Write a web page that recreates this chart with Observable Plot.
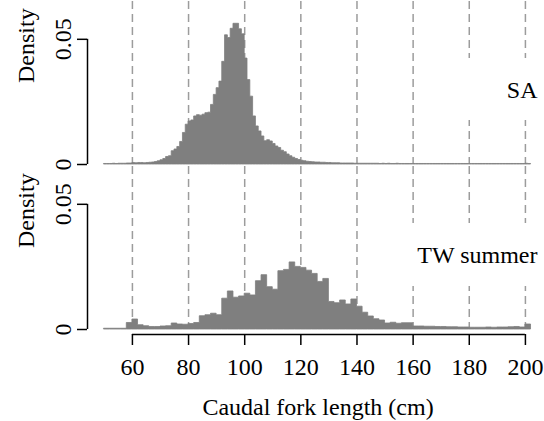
<!DOCTYPE html>
<html>
<head>
<meta charset="utf-8">
<script src="https://cdn.jsdelivr.net/npm/d3@7"></script>
<script src="https://cdn.jsdelivr.net/npm/@observablehq/plot@0.6"></script>
<style>
  html, body { margin: 0; padding: 0; background: #fff; }
</style>
</head>
<body>
<div id="chart"></div>
<script>
// ---- data ----
const panels = ["SA", "TW"];
const panelLabels = ["SA", "TW summer"];

// SA: 1 cm bins starting at 50 cm
const saStart = 50, saBinWidth = 1;
const saDensity = [
  0.0002,0.0002,0.0002,0.0003,0.0002,0.0003,0.0003,0.0003,0.0004,0.0004,
  0.0006,0.0005,0.0006,0.0006,0.0005,0.0006,0.0007,0.0008,0.0010,0.0013,
  0.0017,0.0022,0.0030,0.0033,0.0053,0.0060,0.0070,0.0090,0.0126,0.0159,
  0.0172,0.0176,0.0192,0.0197,0.0195,0.0199,0.0205,0.0207,0.0238,0.0278,
  0.0305,0.0331,0.0410,0.0516,0.0505,0.0542,0.0562,0.0562,0.0540,0.0520,
  0.0423,0.0337,0.0271,0.0192,0.0152,0.0132,0.0112,0.0093,0.0097,0.0092,
  0.0082,0.0072,0.0066,0.0055,0.0049,0.0040,0.0033,0.0027,0.0022,0.0018,
  0.0015,0.0013,0.0011,0.0010,0.0009,0.0008,0.0008,0.0007,0.0007,0.0006,
  0.0006,0.0005,0.0005,0.0005,0.0004,0.0004,0.0004,0.0004,0.0004,0.0003,
  0.0003,0.0003,0.0003,0.0003,0.0003,0.0003,0.0003,0.0003,0.0002,0.0003,
  0.0002,0.0003,0.0002,0.0002,0.0003,0.0002,0.0002,0.0002,0.0002,0.0002,
  0.0002,0.0002,0.0002,0.0002,0.0002,0.0002,0.0002,0.0002,0.0002,0.0002,
  0.0002,0.0002,0.0002,0.0002,0.0002,0.0002,0.0002,0.0002,0.0002,0.0002,
  0.0002,0.0002,0.0002,0.0002,0.0002,0.0002,0.0002,0.0002,0.0002,0.0002,
  0.0002,0.0002,0.0002,0.0002,0.0002,0.0002,0.0002,0.0002,0.0002,0.0002,
  0.0003,0.0002
];

// TW summer: 2 cm bins starting at 50 cm
const twStart = 50, twBinWidth = 2;
const twDensity = [
  0.0003,0.0003,0.0003,0.0003,0.0026,0.0040,0.0017,0.0013,0.0010,0.0010,
  0.0012,0.0013,0.0024,0.0020,0.0019,0.0022,0.0026,0.0053,0.0057,0.0063,
  0.0057,0.0123,0.0152,0.0127,0.0132,0.0143,0.0136,0.0193,0.0217,0.0169,
  0.0159,0.0233,0.0238,0.0268,0.0250,0.0246,0.0235,0.0222,0.0190,0.0202,
  0.0110,0.0105,0.0116,0.0100,0.0120,0.0091,0.0067,0.0052,0.0041,0.0036,
  0.0024,0.0027,0.0023,0.0025,0.0025,0.0012,0.0012,0.0011,0.0011,0.0010,
  0.0010,0.0009,0.0009,0.0008,0.0008,0.0007,0.0007,0.0007,0.0008,0.0007,
  0.0008,0.0008,0.0009,0.0010,0.0008,0.0020
];

const xTicks = [60, 80, 100, 120, 140, 160, 180, 200];
const yTicks = [0, 0.05];
const xTitle = "Caudal fork length (cm)";
const yTitle = "Density";

// ---- tables built from the arrays ----
// step outline of each histogram: one point per bin left edge, plus the closing right edge
function stepRows(panel, start, w, values) {
  const rows = values.map((d, i) => ({panel, x: start + i * w, density: d}));
  rows.push({panel, x: start + values.length * w, density: values[values.length - 1]});
  return rows;
}
const histRows = [
  ...stepRows("SA", saStart, saBinWidth, saDensity),
  ...stepRows("TW", twStart, twBinWidth, twDensity)
];
const panelRows = panels.map((p, i) => ({panel: p, label: panelLabels[i]}));

const xDomain = [44, 206.8];
const font = "'Liberation Serif', 'Times New Roman', Times, serif";

const chart = Plot.plot({
  width: 544,
  height: 421,
  marginLeft: 87,
  marginRight: 0,
  marginTop: 0,
  marginBottom: 91,
  style: {fontFamily: font, fontSize: "24px", background: "#fff", color: "#000", overflow: "visible"},
  x: {domain: xDomain, axis: null},
  y: {domain: [0, 0.0651], axis: null},
  fy: {domain: panels, axis: null, paddingInner: 0.012, paddingOuter: 0},
  marks: [
    // dashed reference lines
    Plot.ruleX(xTicks, {stroke: "#9c9c9c", strokeWidth: 1.5, strokeDasharray: "8,5"}),
    // histograms (step outline filled down to zero)
    Plot.areaY(histRows, {fy: "panel", z: "panel", x: "x", y: "density", curve: "step-after", fill: "#7f7f7f", stroke: "#7f7f7f", strokeWidth: 0.8}),
    // legend boxes (white background behind labels)
    Plot.rect(panelRows.filter(d => d.panel === "SA"), {fy: "panel", fill: "#fff", insetLeft: 373, insetTop: 57, insetBottom: 44}),
    Plot.rect(panelRows.filter(d => d.panel === "TW"), {fy: "panel", fill: "#fff", insetLeft: 318, insetTop: 57, insetBottom: 43}),
    // panel labels
    Plot.text(panelRows, {fy: "panel", text: "label", frameAnchor: "right", textAnchor: "end", dx: -7, dy: 7, fill: "#000", fontSize: 24}),
    // y axis line (0 .. 0.05) in each panel
    Plot.ruleX([xDomain[0]], {y1: yTicks[0], y2: yTicks[yTicks.length - 1], stroke: "#000", strokeWidth: 1.5}),
    Plot.axisY(yTicks, {tickSize: 10, tickRotate: -90, tickPadding: 7, tickFormat: d => String(d), strokeWidth: 1.5, fontSize: 24, label: null}),
    // y titles
    Plot.text(panelRows, {fy: "panel", text: () => yTitle, frameAnchor: "left", rotate: -90, lineAnchor: "bottom", dx: -54, fontSize: 24}),
    // x axis (bottom panel only)
    Plot.ruleY(panelRows.filter(d => d.panel === "TW"), {fy: "panel", y: () => 0, x1: () => xTicks[0], x2: () => xTicks[xTicks.length - 1], dy: 5, stroke: "#000", strokeWidth: 1.5}),
    Plot.axisX(xTicks, {tickSize: 11, tickPadding: 12, dy: 5, strokeWidth: 1.5, fontSize: 24, label: null}),
    Plot.text(panelRows.filter(d => d.panel === "TW"), {fy: "panel", text: () => xTitle, frameAnchor: "bottom", dy: 78, dx: 2, lineAnchor: "middle", fontSize: 24})
  ]
});
document.getElementById("chart").appendChild(chart);
</script>
</body>
</html>
